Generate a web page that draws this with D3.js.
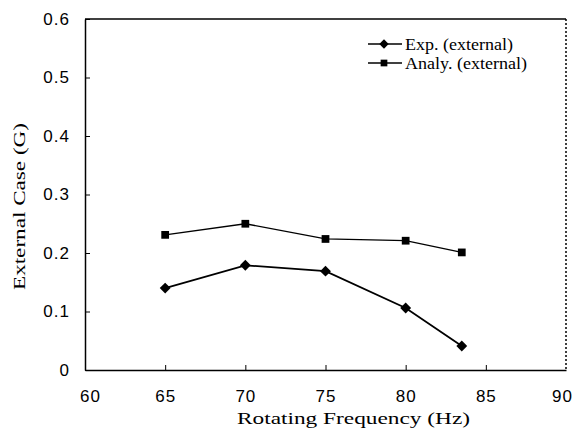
<!DOCTYPE html>
<html><head><meta charset="utf-8">
<script src="https://cdn.jsdelivr.net/npm/d3@7"></script>
<style>body{margin:0;background:#fff}</style>
</head><body>
<script>
const freqs = [65, 70, 75, 80, 83.5];
const expExternal = [0.14, 0.179, 0.169, 0.106, 0.041];
const analyExternal = [0.231, 0.25, 0.224, 0.221, 0.201];
const xTicks = [60, 65, 70, 75, 80, 85, 90];
const yTicks = [0, 0.1, 0.2, 0.3, 0.4, 0.5, 0.6];
const seriesNames = ["Exp. (external)", "Analy. (external)"];

const W = 577, H = 438;
const m = {left: 85, right: 566, top: 19, bottom: 370};
const svg = d3.select("body").append("svg").attr("width", W).attr("height", H);
const x = d3.scaleLinear().domain([60, 90]).range([m.left, m.right]);
const y = d3.scaleLinear().domain([0, 0.6]).range([m.bottom, m.top]);
const serif = "Liberation Serif, Times New Roman, serif";
const sans = "Liberation Sans, Arial, sans-serif";

// frame
svg.append("line").attr("x1", m.left).attr("x2", m.right).attr("y1", m.top).attr("y2", m.top)
  .attr("stroke", "#000").attr("stroke-width", 1.5);
svg.append("line").attr("x1", m.right).attr("x2", m.right).attr("y1", m.top).attr("y2", m.bottom)
  .attr("stroke", "#000").attr("stroke-width", 1.5).attr("stroke-dasharray", "2,2");

const yAxis = svg.append("g").attr("transform", `translate(${m.left},0)`)
  .call(d3.axisLeft(y).tickValues(yTicks).tickSizeInner(-5).tickSizeOuter(0).tickPadding(15)
    .tickFormat(d => d === 0 ? "0" : d3.format(".1f")(d)));
const xAxis = svg.append("g").attr("transform", `translate(0,${m.bottom})`)
  .call(d3.axisBottom(x).tickValues(xTicks).tickSizeInner(-5).tickSizeOuter(0).tickPadding(0));
[xAxis, yAxis].forEach(g => {
  g.select(".domain").attr("stroke", "#000").attr("stroke-width", 1.5);
  g.selectAll(".tick line").attr("stroke", "#000").attr("stroke-width", 1);
  g.selectAll("text").attr("font-family", sans).attr("font-size", 17).attr("fill", "#000")
    .attr("letter-spacing", 1);
});
xAxis.selectAll("text").attr("y", 32).attr("dy", null);
xAxis.selectAll(".tick").filter(d => d === 60 || d === 90).select("line").remove();
xAxis.selectAll(".tick").filter(d => d === 60).select("text").attr("dx", 5);
xAxis.selectAll(".tick").filter(d => d === 90).select("text").attr("dx", -4);

// axis titles
svg.append("text").attr("x", 237).attr("y", 424)
  .attr("font-family", serif).attr("font-size", 16)
  .attr("textLength", 233).attr("lengthAdjust", "spacingAndGlyphs")
  .text("Rotating Frequency (Hz)");
svg.append("text").attr("transform", "translate(25,290) rotate(-90)")
  .attr("font-family", serif).attr("font-size", 16)
  .attr("textLength", 167).attr("lengthAdjust", "spacingAndGlyphs")
  .text("External Case (G)");

const line = d3.line().x((d, i) => x(freqs[i])).y(d => y(d));
const series = [
  {name: seriesNames[0], values: expExternal, sym: d3.symbolDiamond2, size: 75, w: 1.8, len: 108},
  {name: seriesNames[1], values: analyExternal, sym: d3.symbolSquare, size: 60, w: 1.3, len: 122}
];
series.forEach(s => {
  svg.append("path").attr("d", line(s.values)).attr("fill", "none").attr("stroke", "#000").attr("stroke-width", s.w);
  svg.selectAll(null).data(s.values).enter().append("path")
    .attr("d", d3.symbol().type(s.sym).size(s.size))
    .attr("transform", (d, i) => `translate(${x(freqs[i])},${y(d)})`)
    .attr("fill", "#000");
});

// legend
series.forEach((s, i) => {
  const ly = 44 + i * 19;
  svg.append("line").attr("x1", 368).attr("x2", 402).attr("y1", ly).attr("y2", ly)
    .attr("stroke", "#000").attr("stroke-width", 1.5);
  svg.append("path").attr("d", d3.symbol().type(s.sym).size(s.size * 0.75)).attr("transform", `translate(384,${ly})`);
  svg.append("text").attr("x", 405).attr("y", ly + 6)
    .attr("font-family", serif).attr("font-size", 16)
    .attr("textLength", s.len).attr("lengthAdjust", "spacingAndGlyphs")
    .text(s.name);
});
</script>
</body></html>
